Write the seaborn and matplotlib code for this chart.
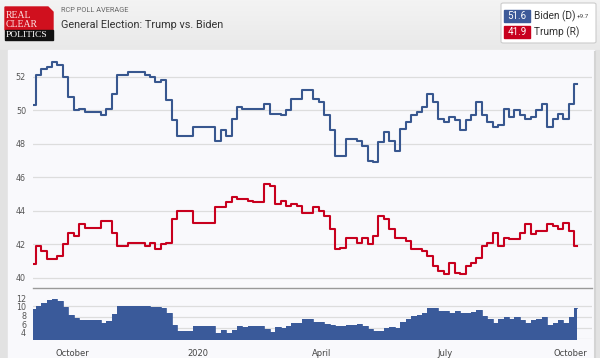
import numpy as np
import pandas as pd
import matplotlib
matplotlib.use("Agg")
import matplotlib.pyplot as plt
import matplotlib.patches as mpatches
import seaborn as sns

# RCP poll average, sampled every 4 days from 2019-09-02 to 2020-10-06
dates = pd.date_range("2019-09-02", periods=101, freq="4D")
biden = [50.3, 52.1, 52.5, 52.6, 52.9, 52.7, 52.0, 50.8, 50.0, 50.1,
         49.9, 49.9, 49.9, 49.7, 50.1, 51.0, 52.1, 52.1, 52.3, 52.3,
         52.3, 52.1, 52.0, 51.7, 51.8, 50.6, 49.4, 48.5, 48.5, 48.5,
         49.0, 49.0, 49.0, 49.0, 48.2, 48.8, 48.5, 49.5, 50.2, 50.1,
         50.1, 50.1, 50.1, 50.4, 49.8, 49.8, 49.7, 50.0, 50.7, 50.7,
         51.2, 51.2, 50.7, 50.5, 49.7, 48.8, 47.3, 47.3, 48.3, 48.3,
         48.2, 47.9, 47.0, 46.9, 48.1, 48.7, 48.2, 47.6, 48.9, 49.3,
         49.7, 49.9, 50.2, 51.0, 50.5, 49.5, 49.3, 49.6, 49.4, 48.8,
         49.4, 49.7, 50.5, 49.7, 49.3, 49.0, 49.1, 50.1, 49.6, 50.0,
         49.7, 49.5, 49.6, 50.0, 50.4, 49.0, 49.5, 49.8, 49.5, 50.4,
         51.6]
trump = [40.8, 41.9, 41.6, 41.1, 41.1, 41.3, 42.0, 42.7, 42.5, 43.2,
         43.0, 43.0, 43.0, 43.4, 43.4, 42.7, 41.9, 41.9, 42.1, 42.1,
         42.1, 41.9, 42.1, 41.7, 42.0, 42.1, 43.5, 44.0, 44.0, 44.0,
         43.3, 43.3, 43.3, 43.3, 44.2, 44.2, 44.5, 44.8, 44.7, 44.7,
         44.6, 44.5, 44.5, 45.6, 45.5, 44.4, 44.6, 44.3, 44.4, 44.3,
         43.9, 43.9, 44.2, 44.0, 43.7, 42.9, 41.7, 41.8, 42.4, 42.4,
         42.1, 42.4, 42.0, 42.5, 43.7, 43.5, 42.9, 42.4, 42.4, 42.2,
         41.7, 41.7, 41.6, 41.3, 40.7, 40.4, 40.2, 40.9, 40.3, 40.2,
         40.7, 40.9, 41.2, 41.9, 42.1, 42.7, 41.9, 42.4, 42.3, 42.3,
         42.7, 43.2, 42.6, 42.8, 42.8, 43.2, 43.1, 42.9, 43.3, 42.8,
         41.9]

tick_dates = pd.to_datetime(["2019-10-01", "2020-01-01", "2020-04-01", "2020-07-01", "2020-10-01"])
tick_labels = ["October", "2020", "April", "July", "October"]
main_yticks = [40, 42, 44, 46, 48, 50, 52]
spread_yticks = [4, 6, 8, 10, 12]

df = pd.DataFrame({"date": dates, "Biden": biden, "Trump": trump})
df["spread"] = df["Biden"] - df["Trump"]

BLUE = "#38578f"
RED = "#c8001e"
AREA = "#3a5a9a"
PANEL = "#f9f9fc"

W, H = 600, 358
fig = plt.figure(figsize=(6, 3.58), dpi=100, facecolor="#e2e2e2")


def fx(px):
    return px / W


def fy(py):
    return 1 - py / H


# header gradient
hdr = fig.add_axes([0, fy(50), 1, 50 / H], zorder=-5)
hdr.imshow(np.linspace(0.95, 0.91, 50)[:, None] * np.ones((1, 10)), cmap="gray",
           vmin=0, vmax=1, aspect="auto", extent=[0, 1, 0, 1])
hdr.axis("off")

# chart panel
fig.patches.append(mpatches.Rectangle((fx(8), 0), fx(594) - fx(8), fy(50),
                                      transform=fig.transFigure, color=PANEL, zorder=-4))

# logo
fig.patches.append(mpatches.Polygon([(fx(5), fy(7)), (fx(48), fy(7)), (fx(53), fy(12)),
                                     (fx(53), fy(30)), (fx(5), fy(30))],
                                    closed=True, transform=fig.transFigure,
                                    color="#d0101e", zorder=1))
fig.patches.append(mpatches.Rectangle((fx(5), fy(40)), fx(53) - fx(5), fy(30) - fy(40),
                                      transform=fig.transFigure, color="#111111", zorder=1))
serif = "Liberation Serif"
fig.text(fx(6), fy(15), "REAL", color="#fbe3e3", fontsize=7.0, family=serif, va="center")
fig.text(fx(6), fy(24.5), "CLEAR", color="#fbe3e3", fontsize=7.0, family=serif, va="center")
fig.text(fx(5.5), fy(35), "POLITICS", color="white", fontsize=6.8, family=serif, va="center")

# header text
fig.text(fx(61), fy(11), "RCP POLL AVERAGE", color="#666666", fontsize=5.3,
         family="Roboto", va="center")
fig.text(fx(61), fy(25), "General Election: Trump vs. Biden", color="#333333",
         fontsize=7.8, family="Roboto", va="center")

# legend box
fig.patches.append(mpatches.FancyBboxPatch((fx(501), fy(43)), fx(596) - fx(501), fy(3) - fy(43),
                                           boxstyle="round,pad=0,rounding_size=0.004",
                                           transform=fig.transFigure, facecolor="white",
                                           edgecolor="#cccccc", lw=0.8, zorder=1))
fig.patches.append(mpatches.Rectangle((fx(504), fy(22)), fx(530) - fx(504), fy(10) - fy(22),
                                      transform=fig.transFigure, color="#3d5a99", zorder=2))
fig.patches.append(mpatches.Rectangle((fx(504), fy(38)), fx(530) - fx(504), fy(26) - fy(38),
                                      transform=fig.transFigure, color=RED, zorder=2))
fig.text(fx(517), fy(16), f"{biden[-1]:.1f}", color="white", fontsize=7, family="Roboto",
         ha="center", va="center", zorder=3)
fig.text(fx(517), fy(32), f"{trump[-1]:.1f}", color="white", fontsize=7, family="Roboto",
         ha="center", va="center", zorder=3)
fig.text(fx(534), fy(16), "Biden (D)", color="#333333", fontsize=7.3, family="Roboto", va="center")
fig.text(fx(534), fy(32), "Trump (R)", color="#333333", fontsize=7.3, family="Roboto", va="center")
fig.text(fx(577), fy(16.5), f"+{df['spread'].iloc[-1]:.1f}", color="#444444", fontsize=4.6,
         family="Roboto", va="center")

xmin = dates[0]
xmax = dates[0] + pd.Timedelta(days=411)

# main chart
ax = fig.add_axes([fx(33), fy(288), fx(592) - fx(33), fy(53) - fy(288)], zorder=2)
ax.set_facecolor(PANEL)
sns.lineplot(data=df, x="date", y="Biden", ax=ax, color=BLUE, lw=1.5, drawstyle="steps-mid")
sns.lineplot(data=df, x="date", y="Trump", ax=ax, color=RED, lw=1.5, drawstyle="steps-mid")
ax.set_xlim(xmin, xmax)
ax.set_ylim(39.39, 53.43)
ax.set_yticks(main_yticks)
ax.set_xticks([])
ax.grid(axis="y", color="#dddddd", lw=0.9)
ax.set_axisbelow(True)
ax.tick_params(axis="y", length=0, pad=5, labelsize=5.8, labelcolor="#555555")
ax.set_xlabel("")
ax.set_ylabel("")
for s in ax.spines.values():
    s.set_visible(False)

# spread chart
ax2 = fig.add_axes([fx(33), fy(339), fx(592) - fx(33), fy(288) - fy(339)], zorder=2)
ax2.set_facecolor(PANEL)
ax2.fill_between(df["date"], 0, df["spread"], color=AREA, step="mid", lw=0, zorder=2)
sns.lineplot(data=df, x="date", y="spread", ax=ax2, color=AREA, lw=0.6,
             drawstyle="steps-mid", zorder=2)
for g in [2.67, 5.21, 7.74, 10.28]:
    ax2.axhline(g, color="#dddddd", lw=0.9, zorder=1)
ax2.set_xlim(xmin, xmax)
ax2.set_ylim(2.6, 14.35)
ax2.set_yticks(spread_yticks)
ax2.set_xticks(tick_dates)
ax2.set_xticklabels(tick_labels)
ax2.tick_params(axis="y", length=0, pad=5, labelsize=5.8, labelcolor="#555555")
ax2.tick_params(axis="x", length=0, pad=7, labelsize=6, labelcolor="#444444")
ax2.set_xlabel("")
ax2.set_ylabel("")
for s in ax2.spines.values():
    s.set_visible(False)
ax2.spines["top"].set_visible(True)
ax2.spines["top"].set_color("#999999")
ax2.spines["top"].set_linewidth(1)

# right border of panel
fig.add_artist(plt.Line2D([fx(595), fx(595)], [0, fy(52)], color="#d4d4d4", lw=1.5))

fig.savefig("out.png", dpi=100, facecolor=fig.get_facecolor())
